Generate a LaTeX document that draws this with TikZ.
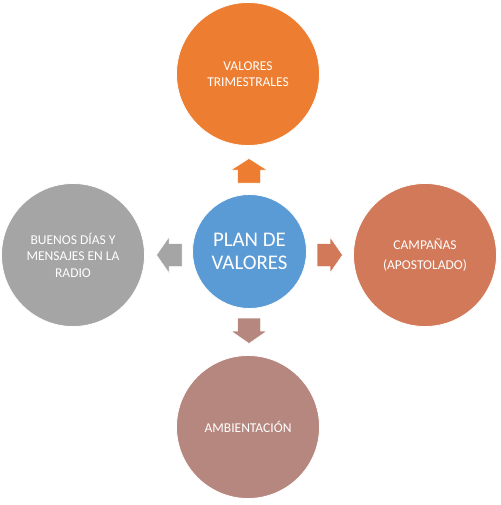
\documentclass[tikz,border=0pt]{standalone}
\usepackage{fontspec}
\setmainfont{Carlito}
\definecolor{corange}{HTML}{ED7D31}
\definecolor{cblue}{HTML}{5B9BD5}
\definecolor{cgray}{HTML}{A5A5A5}
\definecolor{cbrick}{HTML}{D2795A}
\definecolor{crose}{HTML}{B6877E}
\begin{document}
\begin{tikzpicture}[x=1pt,y=-1pt,
  bubble/.style={circle,draw=white,line width=0.8pt,minimum size=143pt,inner sep=0pt,
    text=white,align=center,font=\fontsize{13.5}{16.5}\selectfont},
  hub/.style={bubble,minimum size=114pt,font=\fontsize{20.8}{22.5}\selectfont},
  blockarrow/.style={draw=white,line width=0.5pt}]
\useasboundingbox (0,0) rectangle (500,505);
\node[bubble,fill=corange] (top) at (248,74) {VALORES\\TRIMESTRALES};
\node[bubble,fill=cbrick,font=\fontsize{13.5}{20}\selectfont] (right) at (425,255) {CAMPAÑAS\\(APOSTOLADO)};
\node[bubble,fill=crose] (bottom) at (248,427) {AMBIENTACIÓN};
\node[bubble,fill=cgray] (left) at (73,255) {BUENOS DÍAS Y\\MENSAJES EN LA\\RADIO};
\node[hub,fill=cblue] (hub) at (249.5,251.5) {PLAN DE\\VALORES};
% block arrows
\fill[corange,blockarrow] (249,158.5) -- (267,170) -- (260.5,170) -- (260.5,183) -- (237.5,183) -- (237.5,170) -- (231,170) -- cycle;
\fill[crose,blockarrow] (249,343.5) -- (267,331) -- (260.5,331) -- (260.5,318) -- (237.5,318) -- (237.5,331) -- (231,331) -- cycle;
\fill[cbrick,blockarrow] (342.5,255) -- (330,237) -- (330,243.5) -- (317,243.5) -- (317,266.5) -- (330,266.5) -- (330,273) -- cycle;
\fill[cgray,blockarrow] (156.5,255) -- (169,237) -- (169,243.5) -- (182,243.5) -- (182,266.5) -- (169,266.5) -- (169,273) -- cycle;
\end{tikzpicture}
\end{document}
